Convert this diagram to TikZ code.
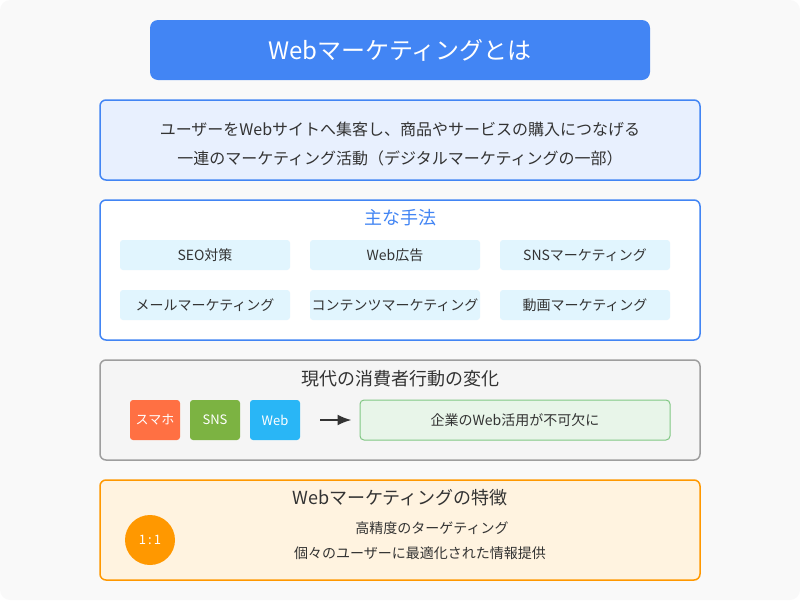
\documentclass[tikz,border=0pt]{standalone}
\usepackage{fontspec}
\setmainfont{Noto Sans CJK JP}
\usetikzlibrary{arrows.meta}
\definecolor{bluet}{HTML}{4285F4}
\definecolor{lblue}{HTML}{E8F0FE}
\definecolor{pill}{HTML}{E1F5FE}
\definecolor{gbg}{HTML}{F5F5F5}
\definecolor{gbd}{HTML}{9E9E9E}
\definecolor{orb}{HTML}{FF9800}
\definecolor{orbg}{HTML}{FFF3E0}
\definecolor{grbg}{HTML}{E8F5E9}
\definecolor{grbd}{HTML}{81C784}
\definecolor{txt}{HTML}{333333}
\tikzset{
 sec/.style={draw, line width=1.5pt, rounded corners=6pt},
 pillbox/.style={fill=pill, rounded corners=3pt, minimum width=170pt, minimum height=30pt, inner sep=0pt, font=\fontsize{14}{16}\selectfont, text=txt},
 tag/.style={rounded corners=3pt, minimum width=50pt, minimum height=40pt, inner sep=0pt, font=\fontsize{13}{15}\selectfont, text=white},
}
\begin{document}
\begin{tikzpicture}[x=1pt,y=-1pt]
\useasboundingbox (0,0) rectangle (800,600);
\fill[gbg!60!white, rounded corners=10pt] (0,0) rectangle (800,600);
% title
\node[fill=bluet, rounded corners=8pt, minimum width=500pt, minimum height=60pt, text=white, font=\fontsize{24}{26}\selectfont] (title) at (400,50) {Webマーケティングとは};
% definition
\draw[sec, draw=bluet, fill=lblue] (100,100) rectangle (700,180);
\node[text=txt, font=\fontsize{16}{18}\selectfont] (d1) at (400,129) {ユーザーをWebサイトへ集客し、商品やサービスの購入につなげる};
\node[text=txt, font=\fontsize{16}{18}\selectfont] (d2) at (400,158) {一連のマーケティング活動（デジタルマーケティングの一部）};
% methods
\draw[sec, draw=bluet, fill=white] (100,200) rectangle (700,340);
\node[text=bluet, font=\fontsize{18}{20}\selectfont] (mt) at (400,218) {主な手法};
\node[pillbox] (p1) at (205,255) {SEO対策};
\node[pillbox] (p2) at (395,255) {Web広告};
\node[pillbox] (p3) at (585,255) {SNSマーケティング};
\node[pillbox] (p4) at (205,305) {メールマーケティング};
\node[pillbox] (p5) at (395,305) {コンテンツマーケティング};
\node[pillbox] (p6) at (585,305) {動画マーケティング};
% behavior
\draw[sec, draw=gbd, fill=gbg] (100,360) rectangle (700,460);
\node[text=txt, font=\fontsize{18}{20}\selectfont] (bt) at (400,379) {現代の消費者行動の変化};
\node[tag, fill={rgb,255:red,255;green,112;blue,67}] (t1) at (155,420) {スマホ};
\node[tag, fill={rgb,255:red,124;green,179;blue,66}] (t2) at (215,420) {SNS};
\node[tag, fill={rgb,255:red,41;green,182;blue,246}] (t3) at (275,420) {Web};
\node[draw=grbd, fill=grbg, line width=1pt, rounded corners=4pt, minimum width=310pt, minimum height=40pt, text=txt, font=\fontsize{14}{16}\selectfont] (res) at (515,420) {企業のWeb活用が不可欠に};
\coordinate (as) at (320,420);
\draw[-{Latex[length=14pt,width=11pt]}, line width=2pt, draw=txt, shorten >=8pt] (as) -- (res.west);
% features
\draw[sec, draw=orb, fill=orbg] (100,480) rectangle (700,580);
\node[text=txt, font=\fontsize{18}{20}\selectfont] (ft) at (400,498) {Webマーケティングの特徴};
\node[circle, fill=orb, minimum size=50pt, inner sep=0pt, text=white, font=\fontsize{13}{15}\selectfont] (c) at (150,540) {1\,:\,1};
\node[text=txt, font=\fontsize{14}{16}\selectfont] (f1) at (432,528) {高精度のターゲティング};
\node[text=txt, font=\fontsize{14}{16}\selectfont] (f2) at (420,553) {個々のユーザーに最適化された情報提供};
\end{tikzpicture}
\end{document}
